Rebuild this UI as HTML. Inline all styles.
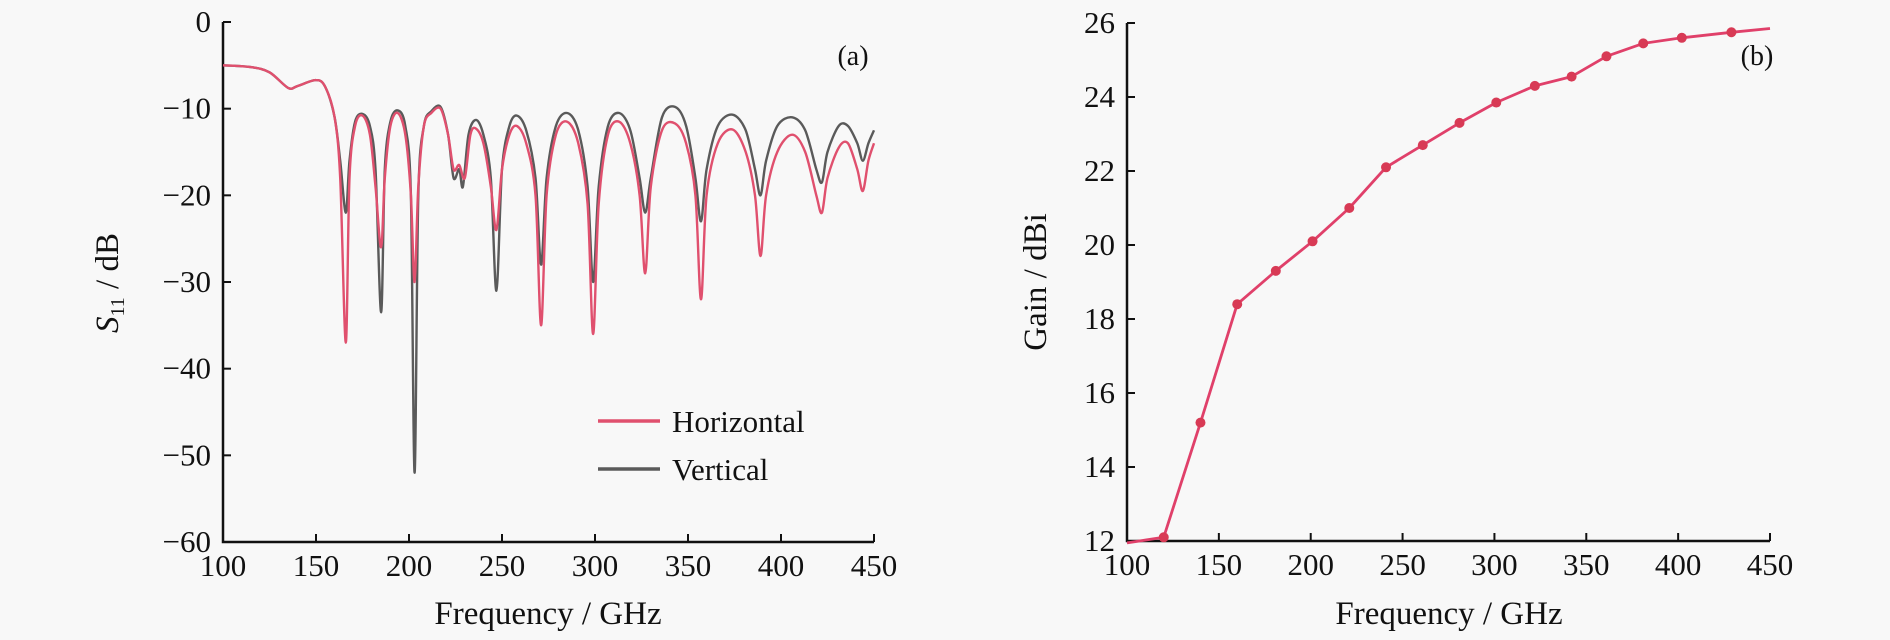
<!DOCTYPE html>
<html><head><meta charset="utf-8"><style>
html,body{margin:0;padding:0;background:#f8f8f8;}
svg{display:block;font-family:"Liberation Serif",serif;}
</style></head><body>
<svg width="1890" height="640" viewBox="0 0 1890 640">
<g id="left"></g>
<g id="right"></g>
</svg>
<script>
// Left chart data
const hFreq=[100,115,125,135,140,150,155,160,163,166,168,171,175,179,182,185,187,190,194,198,201,203,205,208,212,217,221,224,227,230,233,236,240,244,247,250,254,258,263,268,271,274,279,285,291,296,299,302,307,313,319,324,327,330,336,343,349,354,357,360,366,374,381,386,389,392,398,406,413,419,422,425,431,436,441,444,447,450];
const hVal=[-5,-5.2,-5.8,-7.6,-7.4,-6.7,-7.5,-11,-18,-37,-18,-12,-10.8,-13,-19,-26,-18,-12,-10.5,-13,-20,-30,-19,-12,-10.5,-10,-13,-17,-16.5,-18,-13,-12.3,-14,-19,-24,-17,-13,-12,-14,-20,-35,-20,-13,-11.5,-14,-21,-36,-21,-13,-11.5,-14,-20,-29,-19,-12.5,-11.7,-14,-20,-32,-20,-14,-12.4,-15,-20,-27,-20,-15,-13,-15,-20,-22,-18,-14.5,-14,-17,-19.5,-16,-14];
const vFreq=[100,115,125,135,140,150,155,160,163,166,168,171,175,179,182,185,187,190,194,198,201,203,205,208,212,217,221,224,227,229,232,236,240,244,247,250,254,258,263,268,271,274,279,285,291,296,299,302,307,313,319,324,327,330,336,343,349,354,357,360,366,374,381,386,389,392,398,406,413,419,422,425,431,436,441,444,447,450];
const vVal=[-5,-5.2,-5.8,-7.6,-7.4,-6.7,-7.5,-11,-16,-22,-16,-11.5,-10.6,-12,-17,-33.5,-17,-11.5,-10.2,-12,-20,-52,-20,-12,-10.3,-9.8,-13,-18,-17,-19,-13,-11.3,-13,-18,-31,-17,-12,-10.8,-12.5,-18,-28,-18,-12,-10.5,-12.5,-19,-30,-19,-12,-10.5,-12.5,-18,-22,-18,-11,-9.8,-12,-18,-23,-17,-12,-10.7,-12.5,-17,-20,-16,-12,-11,-12.5,-17,-18.5,-15,-12,-12,-14,-16,-14,-12.5];
const leftXTicks=[100,150,200,250,300,350,400,450];
const leftYTicks=[0,-10,-20,-30,-40,-50,-60];
const leftYTickLabels=["0","\u221210","\u221220","\u221230","\u221240","\u221250","\u221260"];
// Right chart data
const gFreq=[100,120,140,160,181,201,221,241,261,281,301,322,342,361,381,402,429,450];
const gVal=[11.95,12.1,15.2,18.4,19.3,20.1,21.0,22.1,22.7,23.3,23.85,24.3,24.55,25.1,25.45,25.6,25.75,25.85];
const gMarkFreq=[120,140,160,181,201,221,241,261,281,301,322,342,361,381,402,429];
const gMarkVal=[12.1,15.2,18.4,19.3,20.1,21.0,22.1,22.7,23.3,23.85,24.3,24.55,25.1,25.45,25.6,25.75];
const rightXTicks=[100,150,200,250,300,350,400,450];
const rightYTicks=[12,14,16,18,20,22,24,26];

const NS='http://www.w3.org/2000/svg';
function mk(parent,tag,attrs,text){const e=document.createElementNS(NS,tag);for(const k in attrs)e.setAttribute(k,attrs[k]);if(text!==undefined)e.textContent=text;parent.appendChild(e);return e;}
function smooth(xs,ys,fx,fy){
  const P=xs.map((x,i)=>[fx(x),fy(ys[i])]);
  let d=`M${P[0][0].toFixed(1)} ${P[0][1].toFixed(1)}`;
  for(let i=0;i<P.length-1;i++){
    const p0=P[Math.max(0,i-1)],p1=P[i],p2=P[i+1],p3=P[Math.min(P.length-1,i+2)];
    const t=0.16;
    const c1=[p1[0]+(p2[0]-p0[0])*t,p1[1]+(p2[1]-p0[1])*t];
    const c2=[p2[0]-(p3[0]-p1[0])*t,p2[1]-(p3[1]-p1[1])*t];
    d+=` C${c1[0].toFixed(1)} ${c1[1].toFixed(1)} ${c2[0].toFixed(1)} ${c2[1].toFixed(1)} ${p2[0].toFixed(1)} ${p2[1].toFixed(1)}`;
  }
  return d;
}

// Left axes
const L=document.getElementById('left');
const lx=f=>223+(f-100)*(651/350);
const ly=v=>22+(0-v)*(520/60);
let e;
e=mk(L,'path',{d:`M${lx(100)} ${ly(0)} V${ly(-60)} H${lx(450)}`,stroke:'#111',fill:'none','stroke-width':2.5});


leftYTicks.forEach((t,i)=>{
  e=mk(L,'line',{x1:lx(100),x2:lx(100)+8,y1:ly(t),y2:ly(t),stroke:'#111','stroke-width':2});
  
  
  e=mk(L,'text',{x:lx(100)-12,y:ly(t)+10,'text-anchor':'end','font-size':31,fill:'#111'},leftYTickLabels[i]);
  
  
});
leftXTicks.forEach(t=>{
  e=mk(L,'line',{x1:lx(t),x2:lx(t),y1:ly(-60),y2:ly(-60)-8,stroke:'#111','stroke-width':2});
  
  
  e=mk(L,'text',{x:lx(t),y:ly(-60)+34,'text-anchor':'middle','font-size':31,fill:'#111'},String(t));
  
  
});
function pts(xs,ys,fx,fy){return xs.map((x,i)=>fx(x).toFixed(1)+','+fy(ys[i]).toFixed(1)).join(' ');}
e=mk(L,'path',{d:smooth(vFreq,vVal,lx,ly),fill:'none',stroke:'#5a5a5a','stroke-width':2.4,'stroke-linejoin':'round'});


e=mk(L,'path',{d:smooth(hFreq,hVal,lx,ly),fill:'none',stroke:'#e0506e','stroke-width':2.4,'stroke-linejoin':'round'});


e=mk(L,'line',{x1:598,x2:660,y1:421,y2:421,stroke:'#e0506e','stroke-width':3.5});


e=mk(L,'text',{x:672,y:432,'font-size':31,fill:'#111'},'Horizontal');


e=mk(L,'line',{x1:598,x2:660,y1:469,y2:469,stroke:'#5a5a5a','stroke-width':3.5});


e=mk(L,'text',{x:672,y:480,'font-size':31,fill:'#111'},'Vertical');


e=mk(L,'text',{x:853,y:65,'text-anchor':'middle','font-size':28,fill:'#111'},'(a)');


e=mk(L,'text',{x:548,y:624,'text-anchor':'middle','font-size':33,fill:'#111'},'Frequency / GHz');


e=mk(L,'text',{transform:'translate(118,283) rotate(-90)','text-anchor':'middle','font-size':33,fill:'#111'});


mk(e,'tspan',{'font-style':'italic'},'S');
mk(e,'tspan',{'font-size':20,dy:6},'11');
mk(e,'tspan',{dy:-6},' / dB');

// Right axes
const R=document.getElementById('right');
const rx=f=>1127+(f-100)*(643/350);
const ry=v=>541-(v-12)*37;
e=mk(R,'path',{d:`M${rx(100)} ${ry(26)} V${ry(12)} H${rx(450)}`,stroke:'#111',fill:'none','stroke-width':2.5});


rightYTicks.forEach(t=>{
  e=mk(R,'line',{x1:rx(100),x2:rx(100)+8,y1:ry(t),y2:ry(t),stroke:'#111','stroke-width':2});
  
  
  e=mk(R,'text',{x:rx(100)-12,y:ry(t)+10,'text-anchor':'end','font-size':31,fill:'#111'},String(t));
  
  
});
rightXTicks.forEach(t=>{
  e=mk(R,'line',{x1:rx(t),x2:rx(t),y1:ry(12),y2:ry(12)-8,stroke:'#111','stroke-width':2});
  
  
  e=mk(R,'text',{x:rx(t),y:ry(12)+34,'text-anchor':'middle','font-size':31,fill:'#111'},String(t));
  
  
});
e=mk(R,'polyline',{points:pts(gFreq,gVal,rx,ry),fill:'none',stroke:'#e0406a','stroke-width':2.8,'stroke-linejoin':'round'});


gMarkFreq.forEach((f,i)=>{
  e=mk(R,'circle',{cx:rx(f),cy:ry(gMarkVal[i]),r:5,fill:'#d83a55'});
  
  
});
e=mk(R,'text',{x:1757,y:65,'text-anchor':'middle','font-size':28,fill:'#111'},'(b)');


e=mk(R,'text',{x:1449,y:624,'text-anchor':'middle','font-size':33,fill:'#111'},'Frequency / GHz');


e=mk(R,'text',{transform:'translate(1046,282) rotate(-90)','text-anchor':'middle','font-size':33,fill:'#111'},'Gain / dBi');


</script>
</body></html>
